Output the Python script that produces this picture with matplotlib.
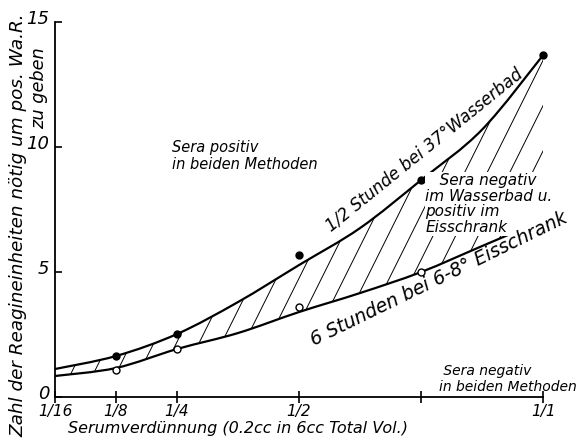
import numpy as np
import matplotlib
matplotlib.use("Agg")
import matplotlib.pyplot as plt
from matplotlib.path import Path
from matplotlib.patches import PathPatch
from matplotlib.transforms import ScaledTranslation

# --- Daten ---
# x-Positionen der Verdünnungen auf der Achse (1/16 ... 1/1)
tick_pos = [0, 1, 2, 4, 6, 8]
tick_labels = ["1/16", "1/8", "1/4", "1/2", "", "1/1"]

# Messpunkte
pts_x = [1, 2, 4, 6, 8]
wasserbad_pts = [1.64, 2.52, 5.68, 8.68, 13.68]   # 1/2 Std. bei 37° (gefüllt)
eisschrank_pts = [1.08, 1.92, 3.60, 5.00, 7.08]   # 6 Std. bei 6-8° (offen)

# ausgeglichene Kurven
curve_x = [0, 1, 2, 3, 4, 5, 6, 7, 8]
wasserbad_curve = [1.12, 1.64, 2.52, 3.80, 5.28, 6.76, 8.68, 10.7, 13.68]
eisschrank_curve = [0.84, 1.16, 1.92, 2.56, 3.40, 4.16, 5.00, 6.04, 7.08]

FONT = dict(family="DejaVu Sans", style="italic")


def smooth_verts(xs, ys):
    # Catmull-Rom -> kubische Bezier-Kontrollpunkte (nur fürs Zeichnen)
    p = np.column_stack([xs, ys]).astype(float)
    ext = np.vstack([p[0], p, p[-1]])
    verts = [p[0]]
    for i in range(len(p) - 1):
        p0, p1, p2, p3 = ext[i], ext[i + 1], ext[i + 2], ext[i + 3]
        verts += [p1 + (p2 - p0) / 6, p2 - (p3 - p1) / 6, p2]
    return np.array(verts)


up_v = smooth_verts(curve_x, wasserbad_curve)
lo_v = smooth_verts(curve_x, eisschrank_curve)
curve_codes = [Path.MOVETO] + [Path.CURVE4] * (len(up_v) - 1)

fig = plt.figure(figsize=(5.79, 4.41), dpi=100)
ax = fig.add_axes([0.095, 0.0998, 0.843, 0.850])

for v in (up_v, lo_v):
    ax.add_patch(PathPatch(Path(v, curve_codes), facecolor="none",
                           edgecolor="black", lw=1.6, zorder=3))

# Fläche zwischen den Kurven (für die Schraffur)
band_v = np.vstack([up_v, lo_v[::-1], up_v[:1]])
band_codes = (curve_codes + [Path.LINETO] + [Path.CURVE4] * (len(lo_v) - 1)
              + [Path.CLOSEPOLY])
band = Path(band_v, band_codes)

slope = 4.9       # Steigung der Schraffurlinien in Dateneinheiten
step = 0.37
for x0 in np.arange(-4, 9, step):
    ln, = ax.plot([x0, x0 + 15 / slope], [0, 15], color="black", lw=0.7, zorder=2)
    ln.set_clip_path(band, ax.transData)

# Punkte
ax.plot(pts_x, wasserbad_pts, "o", ms=5, color="black", zorder=4, clip_on=False)
ax.plot(pts_x, eisschrank_pts, "o", ms=5, mfc="white", mec="black", mew=1.0,
        zorder=4, clip_on=False)

# Achsen
ax.set_xlim(0, 8)
ax.set_ylim(0, 15)
for s in ["top", "right"]:
    ax.spines[s].set_visible(False)
ax.spines["left"].set_linewidth(1.3)
ax.spines["bottom"].set_linewidth(1.3)
ax.set_xticks(tick_pos)
ax.set_xticklabels(tick_labels, fontsize=11, **FONT)
ax.set_yticks([0, 5, 10, 15])
ax.set_yticklabels(["0", "5", "10", "15"], fontsize=13, **FONT)
ax.tick_params(axis="y", direction="in", length=5, width=1.2, pad=4)
ax.tick_params(axis="x", direction="inout", length=8, width=1.2, pad=1)
up = ScaledTranslation(0, 5 / 100, fig.dpi_scale_trans)
for lab in ax.get_yticklabels():
    lab.set_transform(lab.get_transform() + up)

ax.set_xlabel("Serumverdünnung (0.2cc in 6cc Total Vol.)", fontsize=11.5,
              labelpad=0, **FONT)
ax.xaxis.set_label_coords(0.375, -0.064)

fig.text(0.032, 0.49, "Zahl der Reagineinheiten nötig um pos. Wa.R.",
         rotation=90, ha="center", va="center", fontsize=13.2, **FONT)
fig.text(0.068, 0.80, "zu geben", rotation=90, ha="center", va="center",
         fontsize=12.8, **FONT)

# Beschriftungen im Diagramm
ax.text(1.92, 9.64, "Sera positiv\nin beiden Methoden", fontsize=10.5,
        va="center", ha="left", linespacing=1.2, **FONT)
ax.text(6.07, 7.72, "   Sera negativ\nim Wasserbad u.\npositiv im\nEisschrank",
        fontsize=11, va="center", ha="left", linespacing=1.05, zorder=5,
        bbox=dict(facecolor="white", edgecolor="none", pad=0.5), **FONT)
ax.text(6.3, 0.72, " Sera negativ\nin beiden Methoden", fontsize=10,
        va="center", ha="left", linespacing=1.2, **FONT)
ax.text(6.05, 9.9, "1/2 Stunde bei 37°Wasserbad", fontsize=12,
        rotation=39, rotation_mode="anchor", ha="center", va="center",
        zorder=6, **FONT)
ax.text(6.3, 4.72, "6 Stunden bei 6-8° Eisschrank", fontsize=13.5,
        rotation=26, rotation_mode="anchor", ha="center", va="center",
        zorder=6, **FONT)

fig.savefig("out.png", dpi=100)
